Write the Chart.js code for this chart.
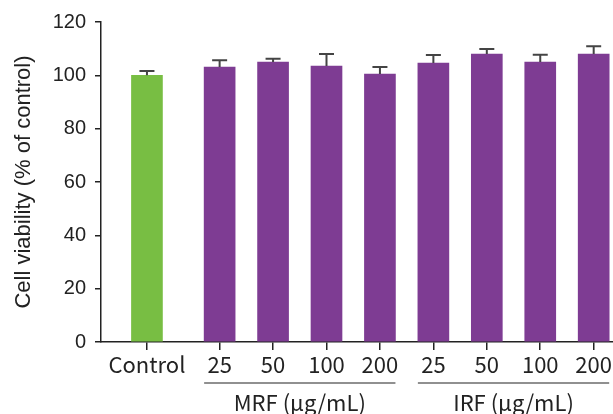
<!DOCTYPE html>
<html>
<head>
<meta charset="utf-8">
<script src="https://cdn.jsdelivr.net/npm/chart.js@4"></script>
<style>
  html, body { margin: 0; padding: 0; background: #fff; }
  #wrap { width: 613px; height: 414px; }
</style>
</head>
<body>
<div id="wrap"><canvas id="chart"></canvas></div>
<script>
// Cell viability data
const categories = ['Control', '25', '50', '100', '200', '25', '50', '100', '200'];
const groups = ['Control', 'MRF', 'MRF', 'MRF', 'MRF', 'IRF', 'IRF', 'IRF', 'IRF'];
const viability = [100, 103.1, 105, 103.5, 100.5, 104.6, 108, 105, 108];
const errors = [1.6, 2.6, 1.2, 4.5, 2.6, 3, 1.9, 2.7, 2.9];
const groupTitles = { MRF: 'MRF (μg/mL)', IRF: 'IRF (μg/mL)' };
const yTicks = [0, 20, 40, 60, 80, 100, 120];

const GREEN = '#78be43';
const PURPLE = '#7e3c93';
const INK = '#222';
const BAR_W = 31;
const LABEL_FONT = '"Noto Sans CJK KR", "Noto Sans", sans-serif';

// control sits alone, treatment groups are shifted right by a small gap
const xPos = i => (i === 0 ? 0 : i + 0.36);

const errorBars = {
    id: 'errorBars',
    afterDatasetsDraw(chart) {
        const { ctx, scales: { x, y } } = chart;
        ctx.save();
        ctx.strokeStyle = '#444';
        ctx.lineWidth = 2;
        viability.forEach((v, i) => {
            const px = x.getPixelForValue(xPos(i));
            const top = y.getPixelForValue(v + errors[i]);
            const base = y.getPixelForValue(v);
            ctx.beginPath();
            ctx.moveTo(px, base);
            ctx.lineTo(px, top);
            ctx.moveTo(px - 7.5, top);
            ctx.lineTo(px + 7.5, top);
            ctx.stroke();
        });
        ctx.restore();
    }
};

const groupLabels = {
    id: 'groupLabels',
    afterDraw(chart) {
        const { ctx, scales: { x } } = chart;
        ctx.save();
        Object.keys(groupTitles).forEach(g => {
            const idx = groups.map((n, i) => (n === g ? i : -1)).filter(i => i >= 0);
            const left = x.getPixelForValue(xPos(idx[0])) - BAR_W / 2;
            const right = x.getPixelForValue(xPos(idx[idx.length - 1])) + BAR_W / 2;
            ctx.strokeStyle = INK;
            ctx.lineWidth = 1.2;
            ctx.beginPath();
            ctx.moveTo(left, 383);
            ctx.lineTo(right, 383);
            ctx.stroke();
            ctx.fillStyle = INK;
            ctx.font = '22px ' + LABEL_FONT;
            ctx.textAlign = 'center';
            ctx.textBaseline = 'middle';
            ctx.fillText(groupTitles[g], (left + right) / 2, 403);
        });
        ctx.restore();
    }
};

new Chart(document.getElementById('chart'), {
    type: 'bar',
    data: {
        datasets: [{
            data: viability.map((v, i) => ({ x: xPos(i), y: v })),
            backgroundColor: viability.map((v, i) => (i === 0 ? GREEN : PURPLE)),
            borderWidth: 0,
            barThickness: BAR_W
        }]
    },
    options: {
        responsive: true,
        maintainAspectRatio: false,
        animation: false,
        layout: { padding: { top: 22, right: 0, left: 0, bottom: 0 } },
        plugins: {
            legend: { display: false },
            tooltip: { enabled: false }
        },
        scales: {
            x: {
                type: 'linear',
                offset: false,
                min: -0.86,
                max: 8.71,
                afterFit: s => { s.height = 72; },
                afterBuildTicks: s => { s.ticks = categories.map((c, i) => ({ value: xPos(i) })); },
                border: { color: INK, width: 1.5 },
                grid: { offset: false, drawOnChartArea: false, tickLength: 8, color: INK, lineWidth: 1.5 },
                ticks: {
                    autoSkip: false,
                    maxRotation: 0,
                    padding: 1,
                    color: INK,
                    font: { family: LABEL_FONT, size: 22 },
                    callback: (val, idx) => categories[idx]
                }
            },
            y: {
                min: 0,
                max: 120,
                afterFit: s => { s.width = 101; },
                afterBuildTicks: s => { s.ticks = yTicks.map(v => ({ value: v })); },
                border: { color: INK, width: 1.5 },
                grid: { drawOnChartArea: false, tickLength: 6, color: INK, lineWidth: 1.5 },
                ticks: {
                    padding: 9,
                    color: INK,
                    font: { family: 'Liberation Sans', size: 20 }
                },
                title: {
                    display: true,
                    text: 'Cell viability (% of control)',
                    color: INK,
                    padding: { top: 11, bottom: 0 },
                    font: { family: 'Liberation Sans', size: 22 }
                }
            }
        }
    },
    plugins: [errorBars, groupLabels]
});
</script>
</body>
</html>
